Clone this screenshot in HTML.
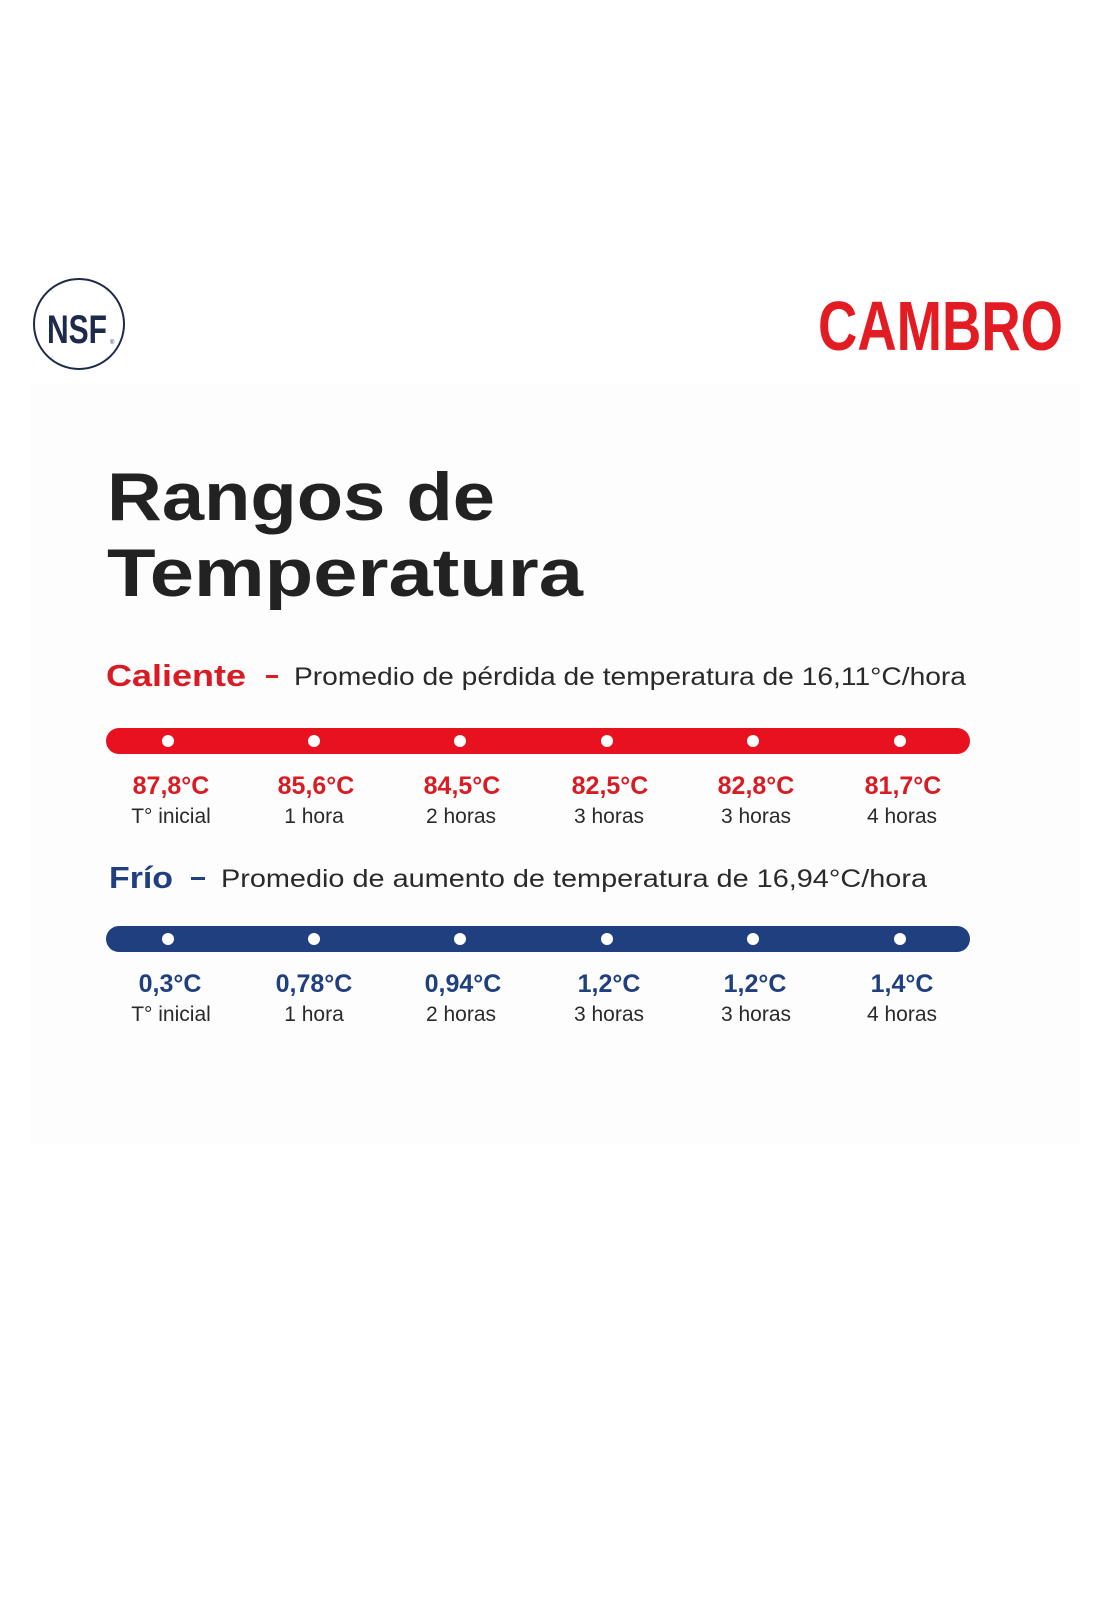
<!DOCTYPE html>
<html><head><meta charset="utf-8"><style>html,body{margin:0;padding:0;background:#fff}svg{display:block}</style></head>
<body>
<svg width="1104" height="1600" viewBox="0 0 1104 1600" xmlns="http://www.w3.org/2000/svg" font-family="'Liberation Sans', sans-serif">
<rect width="1104" height="1600" fill="#fff"/>
<rect x="30" y="385" width="1050" height="760" fill="#fdfdfd"/>
<circle cx="79" cy="324" r="45" fill="#fff" stroke="#1e2a4a" stroke-width="2"/>
<text x="77" y="343" font-size="40" font-weight="bold" fill="#1e2a4a" text-anchor="middle" textLength="60" lengthAdjust="spacingAndGlyphs">NSF</text>
<text x="110" y="344" font-size="6" fill="#1e2a4a">®</text>
<text x="818" y="350" font-size="70" font-weight="bold" fill="#e31b23" textLength="245" lengthAdjust="spacingAndGlyphs">CAMBRO</text>
<text x="107" y="520" font-size="68" font-weight="bold" fill="#222" textLength="388" lengthAdjust="spacingAndGlyphs">Rangos de</text>
<text x="107" y="596" font-size="68" font-weight="bold" fill="#222" textLength="476" lengthAdjust="spacingAndGlyphs">Temperatura</text>
<text x="106" y="686" font-size="31" font-weight="bold" fill="#d91c24" textLength="140" lengthAdjust="spacingAndGlyphs">Caliente</text>
<rect x="266" y="675" width="12" height="3" fill="#d91c24"/>
<text x="294" y="685" font-size="25" fill="#2a2a2a" textLength="672" lengthAdjust="spacingAndGlyphs">Promedio de pérdida de temperatura de 16,11°C/hora</text>
<rect x="106" y="728" width="864" height="26" rx="13" fill="#e8111f"/>
<g fill="#fff"><circle cx="168" cy="741" r="6"/><circle cx="314" cy="741" r="6"/><circle cx="460" cy="741" r="6"/><circle cx="607" cy="741" r="6"/><circle cx="753" cy="741" r="6"/><circle cx="900" cy="741" r="6"/></g>
<g font-size="25" font-weight="bold" fill="#d91c24" text-anchor="middle">
<text x="171" y="794">87,8°C</text><text x="316" y="794">85,6°C</text><text x="462" y="794">84,5°C</text><text x="610" y="794">82,5°C</text><text x="756" y="794">82,8°C</text><text x="903" y="794">81,7°C</text>
</g>
<g font-size="21" fill="#2a2a2a" text-anchor="middle">
<text x="171" y="823">T° inicial</text><text x="314" y="823">1 hora</text><text x="461" y="823">2 horas</text><text x="609" y="823">3 horas</text><text x="756" y="823">3 horas</text><text x="902" y="823">4 horas</text>
</g>
<text x="109" y="888" font-size="31" font-weight="bold" fill="#1f3f7f" textLength="64" lengthAdjust="spacingAndGlyphs">Frío</text>
<rect x="191" y="877" width="14" height="3" fill="#1f3f7f"/>
<text x="221" y="887" font-size="25" fill="#2a2a2a" textLength="706" lengthAdjust="spacingAndGlyphs">Promedio de aumento de temperatura de 16,94°C/hora</text>
<rect x="106" y="926" width="864" height="26" rx="13" fill="#1f3f7f"/>
<g fill="#fff"><circle cx="168" cy="939" r="6"/><circle cx="314" cy="939" r="6"/><circle cx="460" cy="939" r="6"/><circle cx="607" cy="939" r="6"/><circle cx="753" cy="939" r="6"/><circle cx="900" cy="939" r="6"/></g>
<g font-size="25" font-weight="bold" fill="#1f3f7f" text-anchor="middle">
<text x="170" y="992">0,3°C</text><text x="314" y="992">0,78°C</text><text x="463" y="992">0,94°C</text><text x="609" y="992">1,2°C</text><text x="755" y="992">1,2°C</text><text x="902" y="992">1,4°C</text>
</g>
<g font-size="21" fill="#2a2a2a" text-anchor="middle">
<text x="171" y="1021">T° inicial</text><text x="314" y="1021">1 hora</text><text x="461" y="1021">2 horas</text><text x="609" y="1021">3 horas</text><text x="756" y="1021">3 horas</text><text x="902" y="1021">4 horas</text>
</g>
</svg>
</body></html>
